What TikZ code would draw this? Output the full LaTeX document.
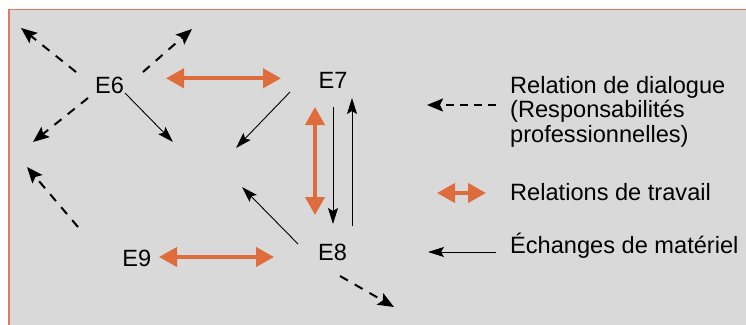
\documentclass[tikz,border=0pt]{standalone}
\usepackage{fontspec}
\setmainfont{Liberation Sans}
\usetikzlibrary{arrows.meta}
\definecolor{bg}{RGB}{217,217,217}
\definecolor{framec}{RGB}{230,118,100}
\definecolor{work}{RGB}{222,108,60}
\begin{document}
\begin{tikzpicture}[x=1pt,y=-1pt,
  lab/.style={font=\fontsize{23.5}{24.5}\selectfont, inner sep=0pt, anchor=base},
  leg/.style={font=\fontsize{23.6}{24.5}\selectfont, inner sep=0pt, anchor=base west},
  dlg/.style={line width=2pt, dash pattern=on 9pt off 8pt, -{Stealth[length=16pt,width=13pt,inset=3pt]}},
  mat/.style={line width=0.9pt, -{Stealth[length=16pt,width=10pt,inset=3pt]}},
  wrk/.style={work, line width=4pt, {Triangle[length=18pt,width=19pt]}-{Triangle[length=18pt,width=19pt]}}]
\useasboundingbox (0,0) rectangle (746,324);
\draw[framec, fill=bg, line width=1.2pt] (9,9.5) rectangle (770,350);
% nodes
\node[lab] (e6) at (109.5,93.3) {E6};
\node[lab] (e7) at (333,88.3) {E7};
\node[lab] (e8) at (332.5,260) {E8};
\node[lab] (e9) at (136.7,266.5) {E9};
% coordinates
\coordinate (a1s) at (76,72);   \coordinate (a1e) at (21,28);
\coordinate (a2s) at (143,72);  \coordinate (a2e) at (192,29);
\coordinate (a3s) at (88,98);   \coordinate (a3e) at (33,142);
\coordinate (a4s) at (78,227);  \coordinate (a4e) at (27,167);
\coordinate (a5s) at (340,276); \coordinate (a5e) at (394,307);
\coordinate (m1s) at (125,93);  \coordinate (m1e) at (173,142);
\coordinate (m2s) at (290,92);  \coordinate (m2e) at (236,148);
\coordinate (m3s) at (298,244); \coordinate (m3e) at (242,187);
\coordinate (m4s) at (333,107); \coordinate (m4e) at (333,224);
\coordinate (m5s) at (352,226); \coordinate (m5e) at (352,98);
\coordinate (w1s) at (166,78.3); \coordinate (w1e) at (281,78.3);
\coordinate (w2s) at (159,257);  \coordinate (w2e) at (274,257);
\coordinate (w3s) at (315,107);  \coordinate (w3e) at (315,215);
% dialogue
\draw[dlg] (a1s) -- (a1e);
\draw[dlg] (a2s) -- (a2e);
\draw[dlg] (a3s) -- (a3e);
\draw[dlg] (a4s) -- (a4e);
\draw[dlg] (a5s) -- (a5e);
% material
\draw[mat] (m1s) -- (m1e);
\draw[mat] (m2s) -- (m2e);
\draw[mat] (m3s) -- (m3e);
\draw[mat] (m4s) -- (m4e);
\draw[mat] (m5s) -- (m5e);
% work
\draw[wrk] (w1s) -- (w1e);
\draw[wrk] (w2s) -- (w2e);
\draw[wrk] (w3s) -- (w3e);
% legend
\coordinate (l1s) at (496,105); \coordinate (l1e) at (427,105);
\coordinate (l2s) at (437,193); \coordinate (l2e) at (486,193);
\coordinate (l3s) at (496,252); \coordinate (l3e) at (428,252);
\draw[dlg, dash pattern=on 8pt off 6pt] (l1s) -- (l1e);
\draw[wrk] (l2s) -- (l2e);
\draw[mat] (l3s) -- (l3e);
\node[leg] (t1) at (510,93.3) {Relation de dialogue};
\node[leg] (t2) at (510,117.8) {(Responsabilités};
\node[leg] (t3) at (510,142.3) {professionnelles)};
\node[leg] (t4) at (510,200) {Relations de travail};
\node[leg] (t5) at (510,253) {Échanges de matériel};
\end{tikzpicture}
\end{document}
